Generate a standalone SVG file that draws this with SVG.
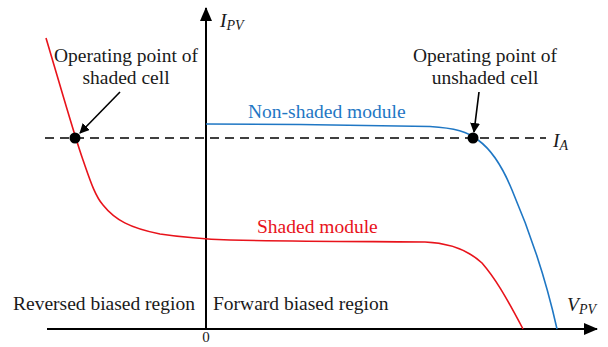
<svg xmlns="http://www.w3.org/2000/svg" width="608" height="347" viewBox="0 0 608 347">
<style>
.t{font-family:"Liberation Serif","Times New Roman","DejaVu Serif",serif;font-size:19.5px;fill:#1a1a1a}
.i{font-style:italic}
.ax{stroke:#000;stroke-width:2;fill:none}
</style>
<defs>
<marker id="ah" viewBox="0 0 10 10" refX="9" refY="5" markerWidth="10" markerHeight="10" markerUnits="userSpaceOnUse" orient="auto"><path d="M0,0 L10,5 L0,10 Z" fill="#000"/></marker>
<marker id="axh" viewBox="0 0 14 12" refX="13" refY="6" markerWidth="14" markerHeight="12" markerUnits="userSpaceOnUse" orient="auto"><path d="M0,0 L14,6 L0,12 Z" fill="#000"/></marker>
</defs>
<rect width="608" height="347" fill="#fff"/>
<g id="axes">
<line class="ax" x1="47" y1="329" x2="597" y2="329" marker-end="url(#axh)"/>
<line class="ax" x1="206" y1="329" x2="206" y2="8" marker-end="url(#axh)"/>
</g>
<g id="ia-line">
<line x1="45" y1="138" x2="546" y2="138" stroke="#000" stroke-width="1.6" stroke-dasharray="9,6"/>
</g>
<g id="nonshaded-curve">
<path d="M206,124 L300,124.5 L430,126.5 C455,128 468,132 478,140 C492,150 503,168 512,190 C527,225 545,275 557,329" fill="none" stroke="#1f77c4" stroke-width="1.6"/>
</g>
<g id="shaded-curve">
<path d="M46,38 C60,85 75,138 83,160 C90,180 95,196 103,205 C115,220 130,228 160,234 C180,237 200,239 230,240 C300,241.5 380,241.5 425,242 C450,243 468,250 482,263 C495,278 505,295 523,329" fill="none" stroke="#e8131b" stroke-width="1.6"/>
</g>
<g id="points">
<circle cx="75" cy="138" r="5.5" fill="#000"/>
<circle cx="473" cy="138" r="5.5" fill="#000"/>
</g>
<g id="connectors">
<line x1="120" y1="92" x2="80" y2="133" stroke="#000" stroke-width="1.6" marker-end="url(#ah)"/>
<line x1="479" y1="92" x2="474" y2="132" stroke="#000" stroke-width="1.6" marker-end="url(#ah)"/>
</g>
<g id="labels">
<text class="t" x="126" y="62" text-anchor="middle">Operating point of</text>
<text class="t" x="126" y="84" text-anchor="middle">shaded cell</text>
<text class="t" x="485" y="62" text-anchor="middle">Operating point of</text>
<text class="t" x="485" y="84" text-anchor="middle">unshaded cell</text>
<text class="t" x="248" y="118" style="fill:#1f77c4">Non-shaded module</text>
<text class="t" x="257" y="233" style="fill:#e8131b">Shaded module</text>
<text class="t" x="13" y="310">Reversed biased region</text>
<text class="t" x="213" y="310">Forward biased region</text>
<text class="t" x="206" y="342" text-anchor="middle" style="font-size:15px">0</text>
<text class="t i" x="220" y="27">I<tspan font-size="14" dy="3">PV</tspan></text>
<text class="t i" x="553" y="147">I<tspan font-size="14" dy="3">A</tspan></text>
<text class="t i" x="567" y="311">V<tspan font-size="14" dy="3">PV</tspan></text>
</g>
</svg>
